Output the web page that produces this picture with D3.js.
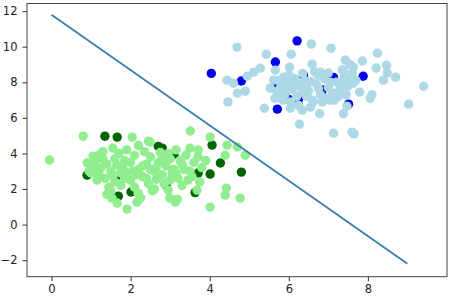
<!DOCTYPE html>
<html>
<head>
<meta charset="utf-8">
<script src="https://cdn.jsdelivr.net/npm/d3@7"></script>
<style>
  body { margin: 0; background: #fff; }
  svg { display: block; font-family: "DejaVu Sans", sans-serif; }
</style>
</head>
<body>
<svg id="chart" width="451" height="299"></svg>
<script>
// class 0, training points (light green)
const greenLight = [
  [-0.05, 3.63], [0.8, 4.97], [2.04, 4.92], [2.45, 4.69], [3.51, 5.26], [4.01, 4.92],
  [4.44, 4.47], [4.7, 4.36], [4.9, 3.9], [4.39, 3.9], [3.68, 1.94], [4.42, 2.05],
  [4.39, 1.66], [4.77, 1.49], [4.01, 0.98], [2.95, 1.94], [3.18, 1.43], [2.99, 1.49],
  [1.53, 1.49], [1.66, 1.21], [1.91, 0.87], [2.16, 1.26], [2.19, 1.77], [0.9, 3.46],
  [3.71, 4.19], [2.49, 4.64], [3.13, 1.26],
  [1.0, 3.3], [1.1, 3.6], [1.2, 3.9], [1.3, 4.1], [1.4, 3.4], [1.5, 3.0], [1.6, 3.7],
  [1.7, 4.0], [1.8, 3.2], [1.9, 2.9], [2.0, 3.5], [2.1, 3.9], [2.2, 3.1], [2.3, 2.7],
  [2.4, 3.4], [2.5, 3.8], [2.6, 3.0], [2.7, 3.5], [2.8, 2.8], [2.9, 3.3], [3.0, 3.7],
  [3.1, 3.1], [3.2, 2.6], [3.3, 3.4], [3.4, 3.9], [3.5, 3.0], [3.6, 3.5], [3.7, 3.8],
  [3.55, 2.7], [1.2, 2.8], [1.35, 2.6], [1.0, 2.9], [1.15, 2.5], [1.6, 2.4], [1.75, 2.2],
  [2.0, 2.5], [2.1, 2.1], [2.45, 2.3], [2.6, 2.0], [2.85, 2.3], [3.0, 2.5], [3.3, 2.2],
  [3.45, 2.5], [1.45, 2.1], [1.85, 2.6], [2.35, 4.1], [2.75, 4.05], [3.15, 4.2], [3.5, 4.3],
  [1.55, 4.3], [1.9, 4.2], [2.2, 4.45], [2.65, 3.2], [2.95, 4.0], [3.25, 3.6], [1.25, 3.2],
  [1.05, 3.85], [1.65, 3.35], [2.05, 3.0], [2.4, 2.6], [3.8, 3.2], [3.9, 3.6], [3.75, 2.4],
  [1.4, 1.7], [1.5, 1.9], [2.25, 1.5], [2.55, 1.9], [0.95, 3.0], [1.75, 2.9], [2.5, 3.1],
  [3.05, 2.9], [1.3, 3.7], [1.85, 3.6], [2.3, 3.3], [2.8, 3.7], [3.35, 3.1], [1.55, 2.75],
  [2.15, 2.8], [2.65, 2.55], [3.15, 2.85], [1.1, 3.2]
];

// class 0, test points (dark green)
const greenDark = [
  [1.35, 4.97], [1.66, 4.92], [2.7, 4.4], [2.8, 4.3], [3.1, 3.96], [4.06, 4.47],
  [4.27, 3.46], [4.8, 2.95], [4.01, 2.84], [3.71, 2.9], [3.63, 1.8], [2.9, 2.22],
  [1.69, 1.6], [2.01, 1.83], [0.9, 2.78], [1.73, 2.78], [1.2, 3.8]
];

// class 1, training points (light blue)
const blueLight = [
  [4.69, 9.98], [5.43, 9.58], [6.06, 9.58], [6.57, 10.15], [7.07, 9.92], [8.24, 9.64],
  [7.86, 9.2], [7.43, 9.25], [6.02, 8.85], [6.59, 9.02], [8.21, 8.8], [8.47, 8.96],
  [8.49, 8.53], [8.7, 8.29], [8.39, 8.12], [9.41, 7.78], [9.03, 6.77], [8.06, 7.1],
  [8.1, 7.3], [7.79, 7.45], [5.66, 8.68], [5.28, 8.79], [5.11, 8.57], [4.95, 8.34],
  [4.44, 8.12], [4.6, 7.95], [4.7, 7.39], [4.9, 7.5], [4.46, 6.9], [5.38, 6.54],
  [6.27, 5.64], [6.78, 6.24], [7.13, 5.14], [7.6, 5.2], [7.65, 5.1], [7.38, 6.24],
  [7.47, 6.66], [7.05, 6.99], [6.62, 6.9], [6.34, 6.43], [6.04, 6.54], [5.7, 7.16],
  [5.53, 7.67], [5.62, 8.12], [5.87, 8.29], [6.8, 8.57], [7.0, 8.52], [7.38, 8.68],
  [7.63, 8.85], [7.48, 8.12], [7.63, 7.95],
  [5.7, 7.5], [5.8, 7.8], [5.9, 7.3], [6.0, 8.0], [6.1, 7.6], [6.2, 7.2], [6.3, 7.8],
  [6.4, 8.1], [6.5, 7.5], [6.6, 7.0], [6.7, 7.9], [6.8, 7.3], [6.9, 8.2], [7.0, 7.7],
  [7.1, 7.4], [7.2, 8.0], [7.3, 7.6], [7.4, 8.3], [7.5, 7.8], [7.6, 8.5], [7.7, 8.1],
  [7.35, 8.7], [7.55, 9.0], [6.45, 7.2], [6.05, 6.9], [6.25, 6.7], [5.85, 7.0],
  [6.55, 6.6], [6.85, 6.9], [7.15, 7.0], [6.0, 8.4], [6.35, 8.5], [6.75, 8.4],
  [5.75, 8.1], [5.65, 7.1], [6.15, 8.2], [6.95, 7.1], [7.25, 7.2], [7.45, 7.3], [6.65, 8.6],
  [5.95, 7.55], [6.35, 7.45], [6.75, 7.65], [7.05, 8.0], [6.55, 8.05], [6.2, 7.95],
  [7.3, 7.95], [5.8, 7.25], [6.45, 7.85]
];

// class 1, test points (dark blue)
const blueDark = [
  [4.04, 8.5], [6.21, 10.33], [5.66, 9.14], [4.8, 8.07], [5.71, 6.49], [7.88, 8.34],
  [7.51, 6.77], [6.12, 8.18], [6.85, 7.57], [7.0, 7.05], [7.23, 7.35], [5.71, 7.9],
  [5.99, 7.05], [6.24, 7.0], [6.37, 8.4], [7.13, 8.27]
];

// decision boundary end points
const boundary = [[0, 11.8], [9, -2.2]];

const xTicks = [0, 2, 4, 6, 8];
const yTicks = [-2, 0, 2, 4, 6, 8, 10, 12];

const svg = d3.select('#chart');
const plotLeft = 27, plotRight = 447, plotTop = 3.5, plotBottom = 276.7;

const x = d3.scaleLinear().domain([-0.62, 10.0]).range([plotLeft, plotRight]);
const y = d3.scaleLinear().domain([-2.93, 12.43]).range([plotBottom, plotTop]);

// Scatter layers: test points drawn first, training points above them.
const layers = [
  { data: greenDark, fill: '#006400' },
  { data: blueDark, fill: '#0000ee' },
  { data: greenLight, fill: '#90ee90' },
  { data: blueLight, fill: '#add8e6' }
];
layers.forEach(layer => {
  svg.append('g')
    .selectAll('circle')
    .data(layer.data)
    .join('circle')
    .attr('cx', d => x(d[0]))
    .attr('cy', d => y(d[1]))
    .attr('r', 4.7)
    .attr('fill', layer.fill);
});

// Boundary line
svg.append('path')
  .datum(boundary)
  .attr('fill', 'none')
  .attr('stroke', '#3a7db0')
  .attr('stroke-width', 1.8)
  .attr('d', d3.line().x(d => x(d[0])).y(d => y(d[1])));

// Axes
const xAxis = d3.axisBottom(x).tickValues(xTicks).tickSize(4.5).tickPadding(4).tickSizeOuter(0);
const yAxis = d3.axisLeft(y).tickValues(yTicks).tickSize(4.5).tickPadding(5).tickSizeOuter(0);

const gx = svg.append('g').attr('transform', `translate(0,${plotBottom})`).call(xAxis);
const gy = svg.append('g').attr('transform', `translate(${plotLeft},0)`).call(yAxis);
[gx, gy].forEach(g => {
  g.select('.domain').remove();
  g.selectAll('line').attr('stroke', '#333');
  g.selectAll('text')
    .attr('fill', '#222')
    .style('font-family', '"DejaVu Sans", sans-serif')
    .style('font-size', '11.5px');
});
gy.selectAll('text').text(d => d < 0 ? '\u22122' : d);

// Frame
svg.append('rect')
  .attr('x', plotLeft)
  .attr('y', plotTop)
  .attr('width', plotRight - plotLeft)
  .attr('height', plotBottom - plotTop)
  .attr('fill', 'none')
  .attr('stroke', '#444')
  .attr('stroke-width', 1);
</script>
</body>
</html>
